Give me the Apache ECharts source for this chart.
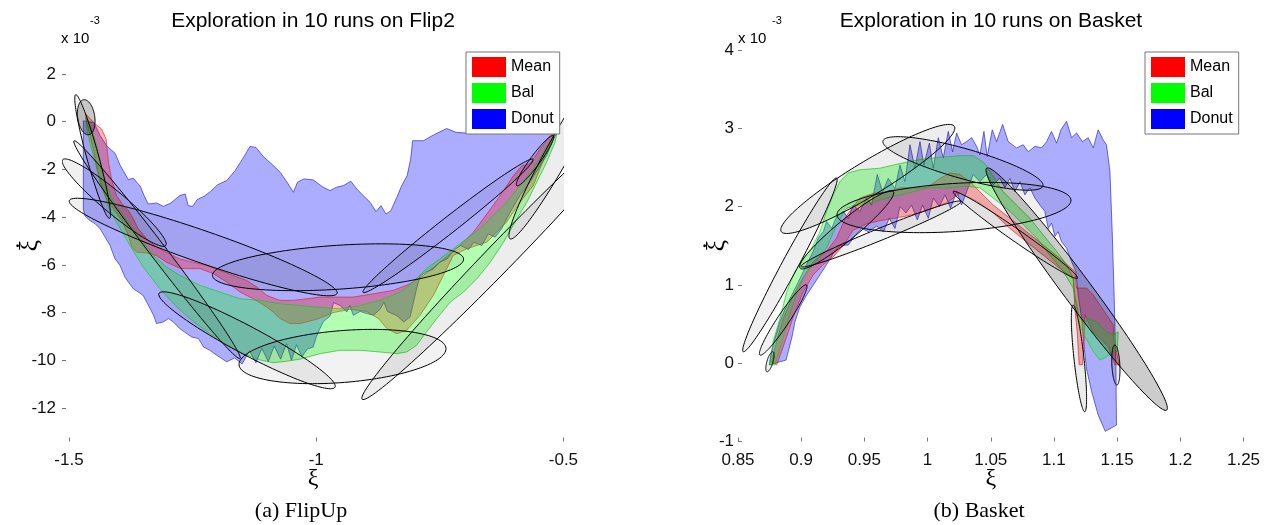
<!DOCTYPE html>
<html>
<head>
<meta charset="utf-8">
<script src="https://cdn.jsdelivr.net/npm/echarts@6.0.0/dist/echarts.min.js"></script>
<style>
  html, body { margin: 0; padding: 0; background: #fff; }
  #chart { width: 1271px; height: 525px; }
</style>
</head>
<body>
<div id="chart"></div>
<script>
// ticks (y values are in units of 10^-3)
const flipXTicks = [-1.5, -1, -0.5];
const flipYTicks = [-12, -10, -8, -6, -4, -2, 0, 2];
const basketXTicks = [0.85, 0.9, 0.95, 1, 1.05, 1.1, 1.15, 1.2, 1.25];
const basketYTicks = [-1, 0, 1, 2, 3, 4];
const legendNames = ['Mean', 'Bal', 'Donut'];

// Flip2: explored regions, [xi, xi_dot * 1e3]
const flipDonut = [
  [-1.471, 0.03], [-1.450, -0.04], [-1.437, -0.59], [-1.424, -1.01], [-1.407, -1.32], [-1.396, -1.85],
  [-1.380, -2.43], [-1.370, -2.37], [-1.356, -2.71], [-1.348, -3.10], [-1.340, -3.45], [-1.323, -3.41],
  [-1.309, -3.55], [-1.294, -3.41], [-1.276, -3.10], [-1.265, -3.03], [-1.259, -3.52], [-1.250, -3.55],
  [-1.241, -3.27], [-1.227, -3.13], [-1.214, -2.93], [-1.200, -2.65], [-1.181, -2.47], [-1.164, -2.05],
  [-1.147, -1.50], [-1.134, -1.04], [-1.122, -1.08], [-1.107, -1.46], [-1.090, -1.78], [-1.073, -2.12],
  [-1.058, -2.57], [-1.046, -2.96], [-1.038, -2.54], [-1.025, -2.40], [-1.006, -2.44], [-0.986, -2.75],
  [-0.972, -2.89], [-0.959, -2.75], [-0.945, -2.68], [-0.930, -2.50], [-0.918, -2.82], [-0.905, -3.10],
  [-0.891, -3.38], [-0.879, -3.77], [-0.869, -3.52], [-0.859, -3.87], [-0.849, -3.73], [-0.837, -3.17],
  [-0.827, -2.68], [-0.816, -2.26], [-0.809, -1.57], [-0.805, -0.80], [-0.783, -0.80], [-0.768, -0.62],
  [-0.755, -0.48], [-0.736, -0.29], [-0.717, -0.45], [-0.696, -0.48], [-0.650, -0.45], [-0.600, -0.40],
  [-0.550, -0.42], [-0.512, -0.45], [-0.520, -0.73], [-0.534, -1.43], [-0.551, -1.98], [-0.568, -2.54],
  [-0.588, -3.10], [-0.608, -3.80], [-0.625, -4.49], [-0.638, -4.84], [-0.652, -4.70], [-0.665, -5.19],
  [-0.681, -5.05], [-0.692, -5.36], [-0.708, -5.19], [-0.721, -5.36], [-0.735, -5.75], [-0.750, -5.89],
  [-0.764, -6.19], [-0.778, -6.30], [-0.790, -6.47], [-0.797, -7.00], [-0.804, -7.63], [-0.810, -8.18],
  [-0.823, -8.39], [-0.836, -8.14], [-0.856, -7.95], [-0.863, -7.56], [-0.871, -7.86], [-0.884, -8.11],
  [-0.898, -8.04], [-0.911, -7.95], [-0.925, -8.11], [-0.932, -7.70], [-0.938, -7.97], [-0.952, -7.70],
  [-0.965, -7.58], [-0.972, -8.14], [-0.986, -8.39], [-0.994, -8.74], [-1.000, -9.02], [-1.006, -9.44],
  [-1.018, -9.53], [-1.029, -9.85], [-1.040, -9.35], [-1.050, -10.0], [-1.060, -9.30], [-1.072, -9.95],
  [-1.085, -9.40], [-1.097, -10.05], [-1.110, -9.50], [-1.122, -10.10], [-1.135, -9.60], [-1.150, -10.15],
  [-1.165, -9.90], [-1.181, -10.06], [-1.201, -9.79], [-1.215, -9.58], [-1.228, -9.44], [-1.238, -9.09],
  [-1.252, -9.02], [-1.262, -8.88], [-1.276, -8.67], [-1.289, -8.39], [-1.299, -8.25], [-1.309, -8.39],
  [-1.323, -8.46], [-1.329, -8.11], [-1.336, -7.83], [-1.343, -7.56], [-1.350, -7.28], [-1.360, -7.14],
  [-1.370, -7.00], [-1.380, -6.72], [-1.387, -6.51], [-1.397, -6.02], [-1.407, -5.75], [-1.417, -5.19],
  [-1.429, -4.77], [-1.437, -4.49], [-1.447, -4.28], [-1.458, -4.14], [-1.468, -3.94], [-1.471, -3.66]
];
const flipMean = [
  [-1.466, 0.31], [-1.447, -0.10], [-1.434, -0.31], [-1.425, -0.73], [-1.420, -1.71], [-1.414, -2.40],
  [-1.404, -3.10], [-1.390, -3.52], [-1.380, -3.73], [-1.370, -4.07], [-1.360, -4.49], [-1.343, -4.91],
  [-1.323, -5.26], [-1.303, -5.47], [-1.276, -5.75], [-1.249, -5.89], [-1.222, -6.02], [-1.195, -6.23],
  [-1.168, -6.44], [-1.141, -6.65], [-1.120, -6.93], [-1.100, -7.28], [-1.073, -7.49], [-1.046, -7.49],
  [-1.019, -7.42], [-0.992, -7.35], [-0.965, -7.35], [-0.925, -7.35], [-0.884, -7.21], [-0.844, -7.07],
  [-0.810, -6.79], [-0.783, -6.44], [-0.750, -5.89], [-0.716, -5.33], [-0.682, -4.63], [-0.655, -3.87],
  [-0.628, -3.10], [-0.601, -2.26], [-0.584, -1.85], [-0.568, -1.78], [-0.547, -1.15], [-0.527, -0.59],
  [-0.517, -0.48], [-0.537, -1.43], [-0.561, -2.68], [-0.588, -3.38], [-0.615, -4.21], [-0.655, -5.05],
  [-0.696, -5.33], [-0.723, -5.61], [-0.736, -6.16], [-0.763, -7.28], [-0.790, -8.11], [-0.817, -8.74],
  [-0.837, -8.88], [-0.857, -8.67], [-0.874, -8.25], [-0.898, -7.95], [-0.932, -7.86], [-0.965, -8.00],
  [-0.999, -8.28], [-1.033, -8.46], [-1.053, -8.46], [-1.073, -8.25], [-1.087, -7.97], [-1.100, -7.77],
  [-1.127, -7.42], [-1.154, -7.14], [-1.181, -6.72], [-1.208, -6.37], [-1.235, -6.16], [-1.262, -6.16],
  [-1.276, -6.14], [-1.303, -5.89], [-1.323, -5.61], [-1.343, -5.50], [-1.363, -5.47], [-1.373, -5.26],
  [-1.380, -4.77], [-1.393, -4.14], [-1.410, -3.66], [-1.424, -3.24], [-1.434, -2.68], [-1.443, -1.98],
  [-1.451, -1.15], [-1.459, -0.45], [-1.466, 0.10]
];
const flipBal = [
  [-1.464, 0.17], [-1.454, -0.31], [-1.444, -1.01], [-1.434, -1.98], [-1.424, -2.68], [-1.410, -3.38],
  [-1.390, -3.94], [-1.370, -4.49], [-1.350, -5.05], [-1.329, -5.61], [-1.303, -6.09], [-1.276, -6.44],
  [-1.235, -6.86], [-1.195, -7.14], [-1.154, -7.42], [-1.114, -7.49], [-1.073, -7.63], [-1.033, -7.70],
  [-0.999, -7.77], [-0.952, -7.84], [-0.911, -7.70], [-0.871, -7.49], [-0.830, -7.14], [-0.804, -6.72],
  [-0.777, -6.16], [-0.750, -5.75], [-0.723, -5.33], [-0.696, -4.91], [-0.669, -4.49], [-0.642, -3.94],
  [-0.615, -3.38], [-0.588, -2.68], [-0.561, -1.98], [-0.537, -1.15], [-0.520, -0.59], [-0.512, -0.38],
  [-0.517, -0.87], [-0.534, -1.71], [-0.554, -2.54], [-0.574, -3.38], [-0.594, -4.07], [-0.621, -5.05],
  [-0.648, -5.89], [-0.675, -6.58], [-0.702, -7.14], [-0.729, -7.56], [-0.756, -8.25], [-0.777, -8.81],
  [-0.797, -9.37], [-0.817, -9.65], [-0.837, -9.72], [-0.871, -9.65], [-0.911, -9.58], [-0.952, -9.58],
  [-0.992, -9.72], [-1.033, -9.95], [-1.060, -10.04], [-1.087, -10.10], [-1.114, -9.98], [-1.147, -9.72],
  [-1.181, -9.37], [-1.215, -8.88], [-1.249, -8.37], [-1.282, -7.77], [-1.316, -7.00], [-1.350, -6.09],
  [-1.377, -5.19], [-1.400, -4.35], [-1.417, -3.73], [-1.437, -2.54], [-1.447, -1.71], [-1.458, -0.87],
  [-1.466, -0.17]
];
// Gaussian ellipses: [cx, cy, u_x, u_y, v_x, v_y, shade] (u, v = conjugate semi-axes)
const flipEllipses = [
  [-1.4652, 0.184, 0.0040, -0.735, -0.0174, 0, 0.22],
  [-1.4523, -1.463, 0.0342, -2.591, -0.0117, -0.066, 0.06],
  [-1.4086, -3.393, 0.1042, -1.797, -0.0143, -0.353, 0.06],
  [-1.3220, -5.366, 0.1679, -4.559, -0.0129, -0.202, 0.06],
  [-1.2286, -5.253, 0.2708, -1.943, -0.0106, -0.632, 0.06],
  [-0.9559, -6.101, 0.2540, 0.347, 0.0029, -0.918, 0.06],
  [-0.7334, -4.367, 0.1719, 2.787, 0.0100, -0.263, 0.06],
  [-1.1400, -9.160, 0.1780, -1.964, -0.0133, -0.516, 0.05],
  [-0.9468, -9.841, 0.2093, 0.347, 0.0042, -1.083, 0.05],
  [-0.6161, -5.412, 0.2910, 6.219, 0.0204, -0.407, 0.07],
  [-0.5069, -1.149, 0.1011, 3.761, 0.0212, -0.244, 0.07],
  [-0.5574, -1.638, 0.0370, 1.045, 0.0082, -0.123, 0.07]
];

// Basket
const basketDonut = [
  [0.8748, -0.02], [0.8766, 0.15], [0.8793, 0.32], [0.8832, 0.53], [0.8885, 0.74], [0.8938, 0.91],
  [0.8990, 1.08], [0.9043, 1.26], [0.9096, 1.43], [0.9135, 1.60], [0.9175, 1.68], [0.9201, 1.81],
  [0.9241, 1.72], [0.9280, 1.87], [0.9333, 1.94], [0.9373, 1.85], [0.9412, 2.02], [0.9465, 1.94],
  [0.9518, 2.11], [0.9557, 2.02], [0.9602, 2.41], [0.9644, 2.19], [0.9689, 2.36], [0.9742, 2.23],
  [0.9782, 2.53], [0.9821, 2.32], [0.9861, 2.79], [0.9900, 2.49], [0.9940, 2.83], [0.9971, 2.53],
  [1.0014, 2.81], [1.0045, 2.49], [1.0085, 2.88], [1.0124, 2.62], [1.0164, 2.96], [1.0198, 2.70],
  [1.0230, 2.94], [1.0269, 2.79], [1.0309, 2.83], [1.0349, 2.88], [1.0388, 2.77], [1.0414, 2.66],
  [1.0446, 2.96], [1.0472, 2.64], [1.0512, 2.98], [1.0546, 2.83], [1.0594, 3.05], [1.0638, 2.83],
  [1.0704, 2.75], [1.0757, 2.79], [1.0797, 2.70], [1.0849, 2.77], [1.0902, 2.75], [1.0942, 2.83],
  [1.0981, 2.96], [1.1021, 2.81], [1.1055, 2.98], [1.1100, 3.09], [1.1139, 2.88], [1.1179, 2.94],
  [1.1226, 2.83], [1.1271, 2.88], [1.1311, 2.75], [1.1350, 2.98], [1.1390, 2.85], [1.1416, 2.79],
  [1.1443, 2.45], [1.1461, 1.68], [1.1477, 0.83], [1.1490, -0.02], [1.1495, -0.79], [1.1406, -0.87],
  [1.1350, -0.66], [1.1298, -0.36], [1.1258, -0.07], [1.1237, 0.23], [1.1219, 0.57], [1.1192, 0.87],
  [1.1174, 1.17], [1.1139, 1.30], [1.1100, 1.47], [1.1060, 1.55], [1.1034, 1.68], [1.1008, 1.62],
  [1.0981, 1.79], [1.0955, 1.72], [1.0928, 1.94], [1.0889, 2.02], [1.0849, 2.11], [1.0810, 2.24],
  [1.0770, 2.15], [1.0731, 2.32], [1.0691, 2.19], [1.0652, 2.36], [1.0612, 2.24], [1.0572, 2.36],
  [1.0520, 2.28], [1.0467, 2.41], [1.0414, 2.32], [1.0361, 2.41], [1.0309, 2.19], [1.0269, 2.02],
  [1.0230, 2.19], [1.0182, 1.98], [1.0138, 2.15], [1.0093, 2.00], [1.0045, 2.11], [1.0006, 1.85],
  [0.9961, 2.02], [0.9919, 1.83], [0.9874, 2.02], [0.9829, 1.92], [0.9782, 2.00], [0.9742, 1.72],
  [0.9697, 1.85], [0.9650, 1.68], [0.9597, 1.75], [0.9531, 1.68], [0.9478, 1.72], [0.9425, 1.63],
  [0.9373, 1.51], [0.9307, 1.50], [0.9254, 1.40], [0.9201, 1.26], [0.9149, 1.13], [0.9096, 1.00],
  [0.9043, 0.87], [0.8990, 0.72], [0.8951, 0.53], [0.8925, 0.32], [0.8898, 0.15], [0.8880, 0.04]
];
const basketMean = [
  [0.8766, 0.02], [0.8806, 0.28], [0.8858, 0.57], [0.8938, 0.87], [0.9017, 1.10], [0.9096, 1.30],
  [0.9201, 1.43], [0.9280, 1.60], [0.9360, 1.89], [0.9465, 2.11], [0.9571, 2.17], [0.9676, 2.19],
  [0.9782, 2.24], [0.9887, 2.24], [0.9993, 2.24], [1.0098, 2.36], [1.0177, 2.43], [1.0256, 2.41],
  [1.0335, 2.32], [1.0414, 2.19], [1.0520, 2.02], [1.0652, 1.85], [1.0783, 1.68], [1.0915, 1.51],
  [1.1047, 1.34], [1.1166, 1.17], [1.1179, 0.96], [1.1258, 0.96], [1.1311, 0.87], [1.1416, 0.62],
  [1.1469, 0.49], [1.1474, 0.27], [1.1495, 0.15], [1.1517, -0.02], [1.1482, -0.02], [1.1430, 0.21],
  [1.1377, 0.30], [1.1311, 0.40], [1.1271, 0.53], [1.1245, 0.62], [1.1237, 0.19], [1.1226, -0.02],
  [1.1200, -0.02], [1.1184, 0.40], [1.1166, 0.70], [1.1153, 1.08], [1.1047, 1.21], [1.0915, 1.38],
  [1.0783, 1.55], [1.0652, 1.72], [1.0520, 1.92], [1.0388, 2.07], [1.0256, 2.17], [1.0151, 2.05],
  [1.0045, 1.98], [0.9940, 1.92], [0.9834, 1.88], [0.9729, 1.85], [0.9623, 1.82], [0.9518, 1.78],
  [0.9412, 1.70], [0.9333, 1.50], [0.9254, 1.36], [0.9175, 1.26], [0.9096, 1.13], [0.9017, 0.91],
  [0.8951, 0.66], [0.8898, 0.40], [0.8845, 0.15], [0.8806, -0.02]
];
const basketBal = [
  [0.8748, -0.02], [0.8779, 0.28], [0.8832, 0.57], [0.8885, 0.91], [0.8951, 1.17], [0.9017, 1.34],
  [0.9083, 1.47], [0.9149, 1.68], [0.9201, 1.94], [0.9254, 2.15], [0.9307, 2.32], [0.9373, 2.43],
  [0.9465, 2.47], [0.9623, 2.49], [0.9782, 2.55], [0.9940, 2.60], [1.0098, 2.63], [1.0256, 2.65],
  [1.0362, 2.65], [1.0454, 2.55], [1.0507, 2.41], [1.0599, 2.19], [1.0704, 2.02], [1.0810, 1.85],
  [1.0915, 1.64], [1.1021, 1.43], [1.1100, 1.26], [1.1153, 1.08], [1.1166, 0.83], [1.1192, 0.62],
  [1.1232, 0.51], [1.1271, 0.57], [1.1337, 0.53], [1.1416, 0.40], [1.1469, 0.36], [1.1508, 0.40],
  [1.1501, 0.15], [1.1469, 0.15], [1.1416, 0.08], [1.1364, 0.04], [1.1311, 0.15], [1.1271, 0.27],
  [1.1237, 0.36], [1.1205, 0.49], [1.1184, 0.74], [1.1153, 0.96], [1.1073, 1.17], [1.0968, 1.38],
  [1.0863, 1.60], [1.0757, 1.77], [1.0652, 1.94], [1.0520, 2.11], [1.0414, 2.24], [1.0309, 2.26],
  [1.0151, 2.24], [0.9993, 2.24], [0.9887, 2.19], [0.9782, 2.15], [0.9676, 2.11], [0.9571, 2.06],
  [0.9465, 2.02], [0.9360, 1.98], [0.9280, 1.77], [0.9201, 1.47], [0.9096, 1.26], [0.9017, 1.09],
  [0.8951, 0.83], [0.8885, 0.49], [0.8832, 0.19], [0.8793, -0.02]
];
const basketEllipses = [
  [0.8911, 1.256, 0.03695, 1.109, 0.00557, -0.0485, 0.06],
  [0.8858, 0.552, 0.01843, 0.4476, 0.00395, -0.0426, 0.06],
  [0.8753, 0.019, 0.00237, 0.1279, 0.00227, -0.011, 0.06],
  [0.9527, 2.353, 0.0685, 0.6714, 0.00697, -0.1859, 0.07],
  [1.0280, 2.551, 0.0633, -0.2877, -0.00322, -0.1847, 0.07],
  [1.0209, 1.988, 0.0926, 0.0959, 0.00122, -0.3063, 0.06],
  [0.9631, 1.650, 0.0633, 0.4156, 0.00178, -0.0710, 0.06],
  [0.9360, 1.703, 0.0369, 0.4898, 0.00502, -0.0988, 0.06],
  [1.0695, 1.639, 0.0492, -0.5537, -0.00271, -0.0630, 0.06],
  [1.1180, 0.946, 0.0712, -1.545, -0.00888, -0.1071, 0.2],
  [1.1198, 0.061, 0.00459, -0.6816, -0.00393, -0.0069, 0.08],
  [1.1490, -0.023, 0.00079, -0.2558, -0.00316, 0, 0.08]
];

const SANS = 'Liberation Sans';
const SERIF = 'Liberation Serif';

function band(name, pts, g, color, edge, fill) {
  return {
    name: name,
    type: 'custom',
    xAxisIndex: g,
    yAxisIndex: g,
    clip: true,
    silent: true,
    itemStyle: { color: color },
    data: [pts[0]],
    renderItem: function (params, api) {
      return {
        type: 'polygon',
        shape: { points: pts.map(function (p) { return api.coord(p); }) },
        style: { fill: fill, stroke: edge, lineWidth: 0.8 }
      };
    }
  };
}

function ellipseSeries(list, g) {
  return {
    name: 'gmm',
    type: 'custom',
    xAxisIndex: g,
    yAxisIndex: g,
    clip: true,
    silent: true,
    data: list,
    renderItem: function (params, api) {
      var cx = api.value(0), cy = api.value(1);
      var ux = api.value(2), uy = api.value(3), vx = api.value(4), vy = api.value(5);
      var pts = [];
      for (var k = 0; k < 120; k++) {
        var t = 2 * Math.PI * k / 120;
        pts.push(api.coord([cx + ux * Math.cos(t) + vx * Math.sin(t), cy + uy * Math.cos(t) + vy * Math.sin(t)]));
      }
      return {
        type: 'polygon',
        shape: { points: pts },
        style: { fill: 'rgba(0,0,0,' + api.value(6) + ')', stroke: '#000', lineWidth: 1 }
      };
    }
  };
}

function xAxisOf(g, min, max, ticks) {
  return {
    gridIndex: g, type: 'value', min: min, max: max,
    axisLine: { show: false, onZero: false },
    splitLine: { show: false },
    axisTick: { show: true, inside: true, length: 4, customValues: ticks, lineStyle: { color: '#777' } },
    axisLabel: { customValues: ticks, margin: 10, fontSize: 17, fontFamily: SANS, color: '#111' },
    name: 'ξ', nameLocation: 'middle', nameGap: 25, nameMoveOverlap: false,
    nameTextStyle: { fontFamily: SERIF, fontSize: 24, color: '#000' }
  };
}
function yAxisOf(g, min, max, ticks, gap, margin) {
  return {
    gridIndex: g, type: 'value', min: min, max: max,
    axisLine: { show: false, onZero: false },
    splitLine: { show: false },
    axisTick: { show: true, inside: true, length: 4, customValues: ticks, lineStyle: { color: '#777' } },
    axisLabel: { customValues: ticks, margin: margin, fontSize: 17, fontFamily: SANS, color: '#111' },
    name: '{d|.}\n{x|ξ}', nameLocation: 'middle', nameGap: gap, nameMoveOverlap: false,
    nameTextStyle: {
      color: '#000',
      rich: {
        d: { fontFamily: SERIF, fontSize: 24, lineHeight: 10, align: 'center', color: '#000' },
        x: { fontFamily: SERIF, fontSize: 26, lineHeight: 24, align: 'center', color: '#000' }
      }
    }
  };
}

function legendAt(left) {
  return {
    left: left, top: 52, orient: 'vertical',
    itemWidth: 34, itemHeight: 20, itemGap: 6,
    padding: [5, 6, 5, 6],
    backgroundColor: '#fff', borderColor: '#777', borderWidth: 1, borderRadius: 0,
    selectedMode: false,
    textStyle: { fontSize: 16, fontFamily: SANS, color: '#000' },
    data: legendNames.map(function (n, i) {
      return { name: n, icon: 'rect', itemStyle: { color: ['#ff0000', '#00ff00', '#0000ff'][i], opacity: 1 } };
    })
  };
}

const titleStyle = { fontSize: 21, fontWeight: 'normal', fontFamily: SANS, color: '#000' };
const capStyle = { fontSize: 22, fontWeight: 'normal', fontFamily: SERIF, color: '#000' };
const expStyle = { fontSize: 15, fontWeight: 'normal', fontFamily: SANS, color: '#000' };
const supStyle = { fontSize: 11, fontWeight: 'normal', fontFamily: SANS, color: '#000' };

const chart = echarts.init(document.getElementById('chart'));
chart.setOption({
  backgroundColor: '#fff',
  animation: false,
  title: [
    { text: 'Exploration in 10 runs on Flip2', left: 313, top: 11, textAlign: 'center', padding: 0, textStyle: titleStyle },
    { text: 'Exploration in 10 runs on Basket', left: 991, top: 11, textAlign: 'center', padding: 0, textStyle: titleStyle },
    { text: 'x 10', left: 61, top: 31, padding: 0, textStyle: expStyle },
    { text: '-3', left: 90, top: 15, padding: 0, textStyle: supStyle },
    { text: 'x 10', left: 738, top: 31, padding: 0, textStyle: expStyle },
    { text: '-3', left: 772, top: 15, padding: 0, textStyle: supStyle },
    { text: '(a) FlipUp', left: 301, top: 500, textAlign: 'center', padding: 0, textStyle: capStyle },
    { text: '(b) Basket', left: 979, top: 500, textAlign: 'center', padding: 0, textStyle: capStyle }
  ],
  legend: [legendAt(466), legendAt(1145)],
  grid: [
    { left: 62, top: 50, width: 502, height: 391.5, containLabel: false, outerBoundsMode: 'none' },
    { left: 738, top: 50, width: 505.5, height: 391.5, containLabel: false, outerBoundsMode: 'none' }
  ],
  xAxis: [
    xAxisOf(0, -1.5142, -0.4988, flipXTicks),
    xAxisOf(1, 0.85, 1.25, basketXTicks)
  ],
  yAxis: [
    yAxisOf(0, -13.4, 3, flipYTicks, 20, 6),
    yAxisOf(1, -1, 4, basketYTicks, 9, 4)
  ],
  series: [
    band('Donut', flipDonut, 0, '#0000ff', 'rgba(30,30,200,0.8)', 'rgba(0,0,255,0.32)'),
    band('Mean', flipMean, 0, '#ff0000', 'rgba(220,30,30,0.8)', 'rgba(255,0,0,0.3)'),
    band('Bal', flipBal, 0, '#00ff00', 'rgba(20,200,20,0.8)', 'rgba(0,255,0,0.3)'),
    ellipseSeries(flipEllipses, 0),
    band('Donut', basketDonut, 1, '#0000ff', 'rgba(30,30,200,0.8)', 'rgba(0,0,255,0.32)'),
    band('Mean', basketMean, 1, '#ff0000', 'rgba(220,30,30,0.8)', 'rgba(255,0,0,0.3)'),
    band('Bal', basketBal, 1, '#00ff00', 'rgba(20,200,20,0.8)', 'rgba(0,255,0,0.3)'),
    ellipseSeries(basketEllipses, 1)
  ]
});
</script>
</body>
</html>
